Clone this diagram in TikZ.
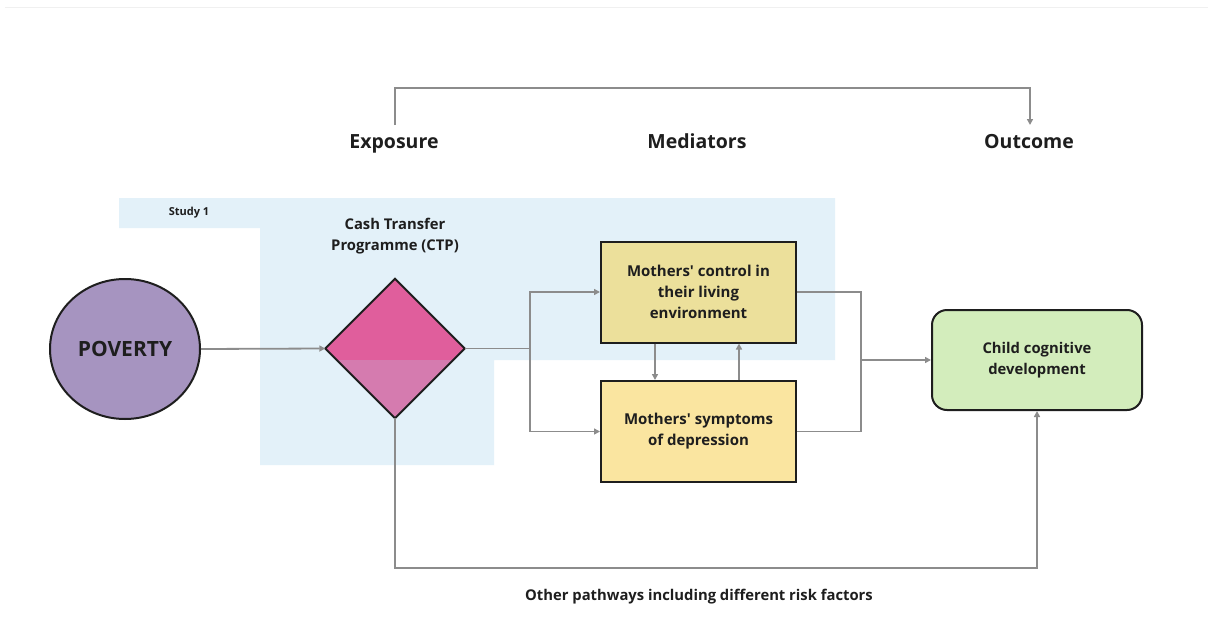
\documentclass[tikz,border=0pt]{standalone}
\usepackage{fontspec}
\setmainfont{Open Sans}[Ligatures=TeXOff]
\usetikzlibrary{shapes.geometric,arrows.meta}
\definecolor{studyblue}{HTML}{E3F1F9}
\definecolor{povfill}{HTML}{A694C0}
\definecolor{ctpA}{HTML}{E05E9C}
\definecolor{ctpB}{HTML}{D57BAF}
\definecolor{medA}{HTML}{ECE09B}
\definecolor{medB}{HTML}{FAE5A0}
\definecolor{outfill}{HTML}{D3EDBC}
\definecolor{inkc}{HTML}{1E1E1E}
\definecolor{linkc}{HTML}{8C8C8C}
\begin{document}
\begin{tikzpicture}[x=1pt,y=-1pt,
  txt/.style={font=\bfseries, text=inkc, align=center},
  box/.style={draw=inkc, line width=2pt, minimum width=195pt, minimum height=101pt, inner sep=0pt, txt, font=\bfseries\fontsize{15}{21}\selectfont},
  link/.style={draw=linkc, line width=1.8pt},
  arr/.style={link, -{Triangle[length=6pt,width=6pt]}},
  head/.style={txt, font=\bfseries\fontsize{19.5}{22}\selectfont}
]
\useasboundingbox (0,0) rectangle (1208,634);
\fill[white] (0,0) rectangle (1208,634);
\draw[gray!12, line width=1pt] (5,8) -- (1208,8);

% study region
\fill[studyblue] (119,198) -- (835,198) -- (835,360) -- (494,360) -- (494,465)
  -- (260,465) -- (260,228) -- (119,228) -- cycle;
\node[txt, font=\bfseries\fontsize{11}{13}\selectfont] (study) at (189,213) {Study 1};

% column headings
\node[head] (expo) at (394,143.5) {Exposure};
\node[head] (medi) at (697,141.5) {Mediators};
\node[head] (outc) at (1029,141.5) {Outcome};
\coordinate (bl) at (395,125);
\coordinate (br) at (1030,125);
\draw[arr] (bl) -- (395,88) -- (1030,88) -- (br);

% nodes
\node[ellipse, draw=inkc, line width=2pt, fill=povfill, minimum width=150pt, minimum height=140pt,
  txt, font=\bfseries\fontsize{21}{24}\selectfont] (pov) at (125,349) {POVERTY};

\node[diamond, minimum width=139pt, minimum height=139pt, inner sep=0pt, fill=ctpA] (ctp) at (395,348.5) {};
\begin{scope}
  \clip (ctp.north) -- (ctp.east) -- (ctp.south) -- (ctp.west) -- cycle;
  \fill[ctpB] (300,360) rectangle (500,430);
\end{scope}
\draw[inkc, line width=2pt, line join=miter] (ctp.north) -- (ctp.east) -- (ctp.south) -- (ctp.west) -- cycle;
\node[txt, font=\bfseries\fontsize{14.8}{21}\selectfont] (ctplab) at (395,236) {Cash Transfer\\Programme (CTP)};

\node[box, fill=medA] (ctrl) at (698.5,292) {Mothers' control in\\their living\\environment};
\node[box, fill=medB] (dep) at (698.5,431.5) {Mothers' symptoms\\of depression};

\node[draw=inkc, line width=2pt, rounded corners=15pt, fill=outfill, minimum width=210pt, minimum height=100pt,
  txt, font=\bfseries\fontsize{14.8}{21}\selectfont] (child) at (1037,360) {Child cognitive\\development};

\node[txt, font=\bfseries\fontsize{14.8}{18}\selectfont] (other) at (699,597) {Other pathways including different risk factors};

% connectors
\draw[arr] (pov.east) -- (ctp.west);
\coordinate (split) at (530,348.5);
\draw[link] (ctp.east) -- (split);
\draw[arr] (split) |- (ctrl.west);
\draw[arr] (split) |- (dep.west);
\draw[arr] ([xshift=-43.5pt]ctrl.south) -- ([xshift=-43.5pt]dep.north);
\draw[arr] ([xshift=40.5pt]dep.north) -- ([xshift=40.5pt]ctrl.south);
\coordinate (join) at (861,360);
\draw[link] (ctrl.east) -| (join);
\draw[link] (dep.east) -| (join);
\draw[arr] (join) -- (child.west);
\draw[arr] (ctp.south) -- (395,568) -| (child.south);
\end{tikzpicture}
\end{document}
